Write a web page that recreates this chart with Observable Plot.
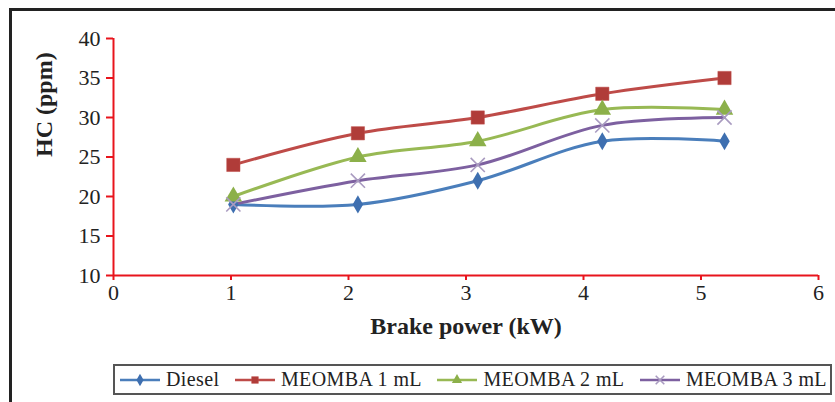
<!DOCTYPE html>
<html><head><meta charset="utf-8">
<script src="https://cdn.jsdelivr.net/npm/d3@7"></script>
<script src="https://cdn.jsdelivr.net/npm/@observablehq/plot@0.6"></script>
<style>
body{margin:0;background:#fff;}
#wrap{position:relative;width:835px;height:402px;overflow:hidden;font-family:"Liberation Serif","DejaVu Serif",serif;background:#fff;}
#frame{position:absolute;left:9px;top:8px;width:900px;height:500px;border-top:3px solid #222;border-left:3px solid #222;}
#chart{position:absolute;left:0;top:0;}
#chart svg{font-family:"Liberation Serif","DejaVu Serif",serif !important;}
#chart svg g[aria-label$="tick label"]{fill:#222;}
#chart svg g[aria-label$="tick label"] text{font-size:22px;}
#legend{position:absolute;left:113px;top:364px;width:719px;height:31px;box-sizing:border-box;border:2px solid #555;display:flex;align-items:center;justify-content:space-between;padding:0 3px 0 5px;font-size:20px;letter-spacing:0.4px;color:#222;background:#fff;}
.item{display:flex;align-items:center;white-space:nowrap;}
.item svg{margin-right:6px;}
</style></head><body>
<div id="wrap"><div id="frame"></div><div id="chart"></div><div id="legend"></div></div>
<script>
const power = [1.02, 2.08, 3.1, 4.16, 5.2];
const seriesNames = ["Diesel", "MEOMBA 1 mL", "MEOMBA 2 mL", "MEOMBA 3 mL"];
const diesel = [19, 19, 22, 27, 27];
const meomba1 = [24, 28, 30, 33, 35];
const meomba2 = [20, 25, 27, 31, 31];
const meomba3 = [19, 22, 24, 29, 30];
const xTicks = [0, 1, 2, 3, 4, 5, 6];
const yTicks = [10, 15, 20, 25, 30, 35, 40];
const xLabel = "Brake power (kW)";
const yLabel = "HC (ppm)";

const valuesBySeries = [diesel, meomba1, meomba2, meomba3];
const styles = [
  {line: "#4A7EBB", symbol: "diamond", fill: "#3E6FB0", stroke: "none", r: 5.5, sw: 0},
  {line: "#BE4B48", symbol: "square", fill: "#B03C39", stroke: "#C0504D", r: 7.5, sw: 0.5},
  {line: "#98B954", symbol: "triangle", fill: "#8CB04A", stroke: "none", r: 6.5, sw: 0},
  {line: "#7D60A0", symbol: "times", fill: "none", stroke: "#A99BC0", r: 6.5, sw: 1.6}
];

const rows = [];
seriesNames.forEach((name, i) => {
  valuesBySeries[i].forEach((v, j) => rows.push({series: name, x: power[j], y: v}));
});

const red = "#E8141C";
const marks = [
  Plot.ruleX([0], {stroke: red, strokeWidth: 2}),
  Plot.ruleY([10], {stroke: red, strokeWidth: 2}),
  Plot.axisX(xTicks, {tickSize: 5, tickPadding: 4, color: red, strokeWidth: 2, fontSize: 22, tickFormat: d => String(d), label: null}),
  Plot.axisY(yTicks, {tickSize: 7, tickPadding: 6, color: red, strokeWidth: 2, fontSize: 22, tickFormat: d => String(d), label: null}),
  Plot.text([xLabel], {text: d => d, frameAnchor: "bottom", dy: 58, fontWeight: "bold", fontSize: 24, fill: "#222"}),
  Plot.text([yLabel], {text: d => d, frameAnchor: "left", dx: -69, rotate: -90, fontWeight: "bold", fontSize: 24, fill: "#222"})
];
seriesNames.forEach((name, i) => {
  const s = styles[i];
  const data = rows.filter(d => d.series === name);
  marks.push(Plot.line(data, {x: "x", y: "y", stroke: s.line, strokeWidth: 3, curve: "catmull-rom"}));
});
seriesNames.forEach((name, i) => {
  const s = styles[i];
  const data = rows.filter(d => d.series === name);
  marks.push(Plot.dot(data, {x: "x", y: "y", symbol: () => s.symbol, r: s.r, fill: s.fill, stroke: s.stroke, strokeWidth: s.sw}));
});

const chart = Plot.plot({
  width: 835,
  height: 360,
  marginLeft: 113,
  marginRight: 17,
  marginTop: 38,
  marginBottom: 85,
  x: {domain: [0, 6]},
  y: {domain: [10, 40]},
  symbol: {type: "identity"},
  style: {fontSize: "22px", color: "#222", background: "transparent"},
  marks
});
document.getElementById("chart").appendChild(chart);

// legend
const legend = d3.select("#legend");
const symMap = {diamond: d3.symbolDiamond, square: d3.symbolSquare, triangle: d3.symbolTriangle, times: d3.symbolTimes};
seriesNames.forEach((name, i) => {
  const s = styles[i];
  const item = legend.append("div").attr("class", "item");
  const svg = item.append("svg").attr("width", 40).attr("height", 16);
  svg.append("line").attr("x1", 0).attr("x2", 40).attr("y1", 8).attr("y2", 8)
    .attr("stroke", s.line).attr("stroke-width", 2.5);
  svg.append("path").attr("transform", "translate(20,8)")
    .attr("d", d3.symbol(symMap[s.symbol], s.symbol === "times" ? 50 : 45)())
    .attr("fill", s.fill).attr("stroke", s.stroke === "none" ? null : s.stroke)
    .attr("stroke-width", s.sw);
  item.append("span").text(name);
});
</script>
</body></html>
